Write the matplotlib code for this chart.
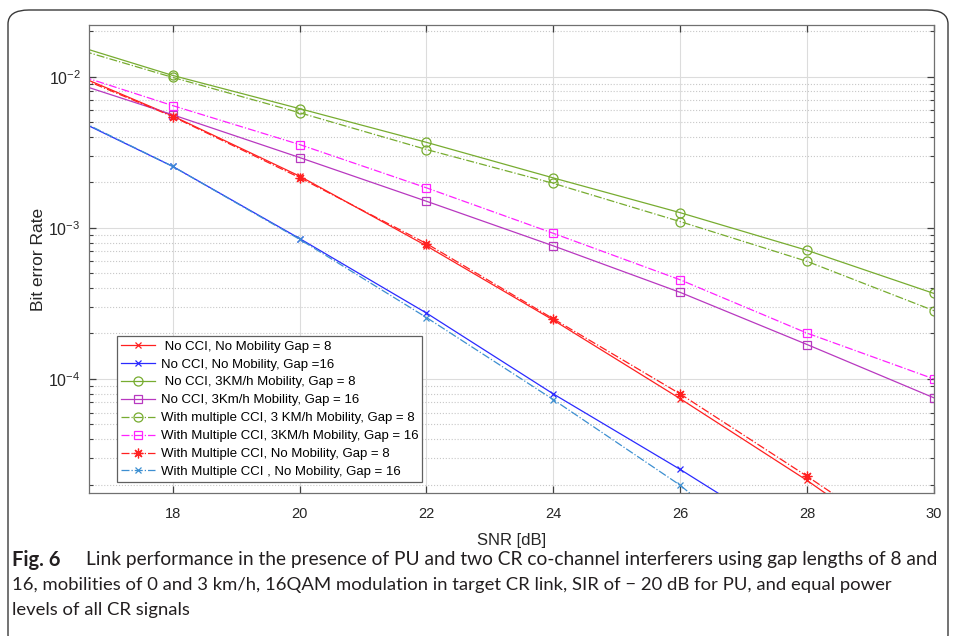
import numpy as np
import matplotlib
matplotlib.use('Agg')
import matplotlib.pyplot as plt
from matplotlib.patches import FancyBboxPatch
from matplotlib.ticker import LogLocator, NullFormatter, MultipleLocator

plt.rcParams['font.family'] = ['Liberation Sans', 'DejaVu Sans']
plt.rcParams['mathtext.fontset'] = 'custom'
plt.rcParams['mathtext.rm'] = 'Liberation Sans'
plt.rcParams['mathtext.default'] = 'regular'

# SNR points (dB); first point lies left of the visible range
snr = [16, 18, 20, 22, 24, 26, 28, 30]

# BER curves
ber_nocci_nomob_g8 = [1.25e-2, 5.5e-3, 2.2e-3, 7.6e-4, 2.45e-4, 7.4e-5, 2.13e-5, 5.5e-6]
ber_nocci_nomob_g16 = [6.5e-3, 2.55e-3, 8.5e-4, 2.73e-4, 7.96e-5, 2.52e-5, 7.5e-6, 2e-6]
ber_nocci_3kmh_g8 = [1.85e-2, 1.02e-2, 6.15e-3, 3.68e-3, 2.14e-3, 1.26e-3, 7.1e-4, 3.68e-4]
ber_nocci_3kmh_g16 = [1.05e-2, 5.6e-3, 2.92e-3, 1.50e-3, 7.6e-4, 3.74e-4, 1.69e-4, 7.5e-5]
ber_cci_3kmh_g8 = [1.75e-2, 9.9e-3, 5.78e-3, 3.30e-3, 1.97e-3, 1.10e-3, 6.0e-4, 2.83e-4]
ber_cci_3kmh_g16 = [1.2e-2, 6.44e-3, 3.56e-3, 1.84e-3, 9.2e-4, 4.53e-4, 2.01e-4, 1.0e-4]
ber_cci_nomob_g8 = [1.22e-2, 5.45e-3, 2.15e-3, 7.87e-4, 2.5e-4, 7.96e-5, 2.27e-5, 6.2e-6]
ber_cci_nomob_g16 = [6.6e-3, 2.55e-3, 8.4e-4, 2.55e-4, 7.3e-5, 1.98e-5, 4e-6, 1e-6]

labels = [
    ' No CCI, No Mobility Gap = 8',
    'No CCI, No Mobility, Gap =16',
    ' No CCI, 3KM/h Mobility, Gap = 8',
    'No CCI, 3Km/h Mobility, Gap = 16',
    'With multiple CCI, 3 KM/h Mobility, Gap = 8',
    'With Multiple CCI, 3KM/h Mobility, Gap = 16',
    'With Multiple CCI, No Mobility, Gap = 8',
    'With Multiple CCI , No Mobility, Gap = 16',
]

caption_lines = [
    'Link performance in the presence of PU and two CR co-channel interferers using gap lengths of 8 and',
    '16, mobilities of 0 and 3 km/h, 16QAM modulation in target CR link, SIR of \u2212 20 dB for PU, and equal power',
    'levels of all CR signals',
]

W, H = 956, 636
fig = plt.figure(figsize=(W / 100, H / 100), dpi=100)

# outer rounded frame
box = FancyBboxPatch((8 / W, -0.02), 940 / W, 1 - 10 / H + 0.02,
                     boxstyle='round,pad=0,rounding_size=0.022',
                     transform=fig.transFigure, facecolor='none',
                     edgecolor='#3a3a3a', linewidth=1.0, zorder=-1)
fig.patches.append(box)

ax = fig.add_axes([89 / W, 1 - 493 / H, (934 - 89) / W, (493 - 25) / H])
ax.set_zorder(2)

asterisk = (8, 2, 0)
series = [
    (ber_nocci_nomob_g8, '#ff2020', '-', 'x', 5),
    (ber_nocci_nomob_g16, '#2a2aff', '-', 'x', 5),
    (ber_nocci_3kmh_g8, '#77ac30', '-', 'o', 6.5),
    (ber_nocci_3kmh_g16, '#b838c0', '-', 's', 5.5),
    (ber_cci_3kmh_g8, '#77ac30', '-.', 'o', 6.5),
    (ber_cci_3kmh_g16, '#ff22ff', '-.', 's', 5.5),
    (ber_cci_nomob_g8, '#ff2020', '-.', asterisk, 7),
    (ber_cci_nomob_g16, '#3d8fd1', '-.', 'x', 5),
]

for (y, c, ls, m, ms), lab in zip(series, labels):
    ax.semilogy(snr, y, color=c, linestyle=ls, marker=m, markersize=ms,
                markerfacecolor='none', markeredgewidth=0.9, linewidth=0.9,
                label=lab)

ax.set_xlim(16.68, 30)
ax.set_ylim(1.76e-5, 2.2e-2)
ax.xaxis.set_major_locator(MultipleLocator(2))
ax.yaxis.set_major_locator(LogLocator(base=10, numticks=10))
ax.yaxis.set_minor_locator(LogLocator(base=10, subs=np.arange(2, 10), numticks=10))
ax.yaxis.set_minor_formatter(NullFormatter())

ax.grid(True, which='major', color='#dcdcdc', linestyle='-', linewidth=0.8)
ax.grid(True, which='minor', axis='y', color='#c8c8c8', linestyle=':', linewidth=0.8)
ax.set_axisbelow(True)

for s in ax.spines.values():
    s.set_color('#707070')
    s.set_linewidth(0.9)
ax.tick_params(which='both', direction='in', top=True, right=True, colors='#404040',
               labelcolor='#262626')
ax.tick_params(which='major', length=5, width=0.9)
ax.tick_params(which='minor', length=3, width=0.8)
ax.tick_params(axis='x', pad=10, labelsize=10.5)
ax.tick_params(axis='y', pad=6, labelsize=11.5)

ax.set_xlabel('SNR [dB]', fontsize=12, color='#262626')
ax.set_ylabel('Bit error Rate', fontsize=12.5, color='#262626')
ax.xaxis.set_label_coords(0.5, -0.0855)
ax.yaxis.set_label_coords(-0.051, 0.5)

leg = ax.legend(loc='lower left', bbox_to_anchor=((117 - 89) / 845, (493 - 482) / 468),
                fontsize=9.5, fancybox=False, framealpha=1, edgecolor='#606060',
                handlelength=2.6, handletextpad=0.4, labelspacing=0.43,
                borderpad=0.3, borderaxespad=0)
leg.get_frame().set_linewidth(0.9)

# caption
cap_font = ['Lato', 'DejaVu Sans']
cap_color = '#231f20'
fig.text(12 / W, 1 - 560 / H, 'Fig. 6', fontsize=14.5, fontweight='bold',
         family=cap_font, va='center', ha='left', color=cap_color)
fig.text(86 / W, 1 - 560 / H, caption_lines[0], fontsize=13.8, family=cap_font,
         va='center', ha='left', color=cap_color)
fig.text(12 / W, 1 - 585 / H, caption_lines[1], fontsize=13.3, family=cap_font,
         va='center', ha='left', color=cap_color)
fig.text(12 / W, 1 - 610 / H, caption_lines[2], fontsize=13.3, family=cap_font,
         va='center', ha='left', color=cap_color)

fig.savefig('out.png', dpi=100)
